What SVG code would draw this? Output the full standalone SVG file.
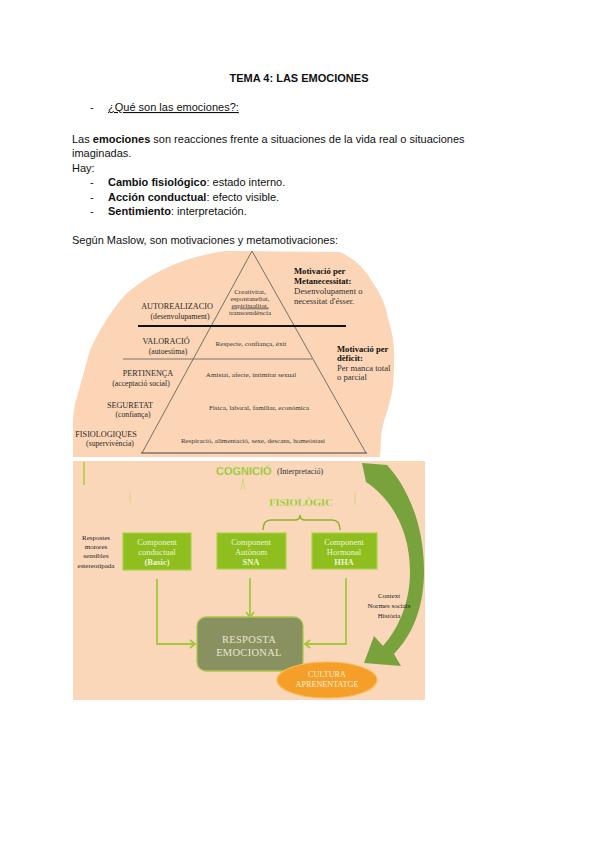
<svg xmlns="http://www.w3.org/2000/svg" width="600" height="848" viewBox="0 0 600 848">
<style>
.body{font-family:"Liberation Sans",Arial,sans-serif;font-size:11px;fill:#111}
.b{font-weight:bold}
.ser{font-family:"Liberation Serif","Times New Roman",serif}
.lab{font-family:"Liberation Serif","Times New Roman",serif;font-size:8.2px;fill:#2a2a2a;text-anchor:middle}
.lab2{font-family:"Liberation Serif","Times New Roman",serif;font-size:7.7px;fill:#2a2a2a;text-anchor:middle}
.in{font-family:"Liberation Serif","Times New Roman",serif;font-size:7.1px;fill:#3a3a3a;text-anchor:middle}
.mot{font-family:"Liberation Serif","Times New Roman",serif;font-size:8.6px;fill:#333}
.pl{stroke:#555;stroke-width:0.8;fill:none}
.box{fill:#8FBF1E;stroke:#ACD24A;stroke-width:1.2}
.bt{font-family:"Liberation Serif","Times New Roman",serif;font-size:8.5px;fill:#EEF3D6;text-anchor:middle}
.con{fill:none;stroke:#A2C83E;stroke-width:1.8}
.tiny{font-family:"Liberation Serif","Times New Roman",serif;font-size:7px;fill:#222;text-anchor:middle}
.faint{stroke:#B9D45A;stroke-width:1;fill:none;opacity:0.6}
</style>
<defs>
<marker id="chev" markerUnits="userSpaceOnUse" markerWidth="10" markerHeight="10" refX="6" refY="5" orient="auto">
<path d="M1,1 L6,5 L1,9" fill="none" stroke="#A2C83E" stroke-width="1.8"/>
</marker>
</defs>
<rect width="600" height="848" fill="#ffffff"/>

<g id="text-section">
<text class="body b" x="299" y="82" text-anchor="middle">TEMA 4: LAS EMOCIONES</text>
<text class="body" x="90" y="111">-</text>
<text class="body" x="108" y="111" text-decoration="underline">¿Qué son las emociones?:</text>
<text class="body" x="72" y="143">Las <tspan class="b">emociones</tspan> son reacciones frente a situaciones de la vida real o situaciones</text>
<text class="body" x="72" y="157">imaginadas.</text>
<text class="body" x="72" y="172">Hay:</text>
<text class="body" x="90" y="186">-</text>
<text class="body" x="108" y="186"><tspan class="b">Cambio fisiológico</tspan>: estado interno.</text>
<text class="body" x="90" y="201">-</text>
<text class="body" x="108" y="201"><tspan class="b">Acción conductual</tspan>: efecto visible.</text>
<text class="body" x="90" y="215">-</text>
<text class="body" x="108" y="215"><tspan class="b">Sentimiento</tspan>: interpretación.</text>
<text class="body" x="72" y="244">Según Maslow, son motivaciones y metamotivaciones:</text>
</g>

<g id="pyramid">
<path d="M225,251 L340,252 Q362,262 373,283 Q385,300 388,318 Q395,340 394,360 Q394,380 392,392 Q388,410 385,418 Q381,430 381,440 L380,457 L73,457 L73,420 Q74,405 77,397 Q84,372 90,350 Q100,328 113,310 Q120,300 127,293 Q145,278 162,270 Q190,256 225,251 Z" fill="#FBD5B5"/>
<path class="pl" d="M252,251 L142,453 M252,251 L366,453"/>
<line x1="141" y1="453" x2="367" y2="453" stroke="#444" stroke-width="1"/>
<line x1="138" y1="326" x2="346" y2="326" stroke="#111" stroke-width="2"/>
<line x1="123" y1="359" x2="312" y2="359" stroke="#777" stroke-width="1"/>

<g id="lvl-autorealitzacio">
<text class="lab" x="177" y="309">AUTOREALIZACIO</text>
<text class="lab2" x="180" y="319">(desenvolupament)</text>
<text class="in" x="250" y="294" font-size="6.6">Creativitat,</text>
<text class="in" x="250" y="301" font-size="6.6">espontaneïtat,</text>
<text class="in" x="250" y="307.5" font-size="6.6" text-decoration="underline">espiritualitat,</text>
<text class="in" x="250" y="314.5" font-size="6.6">transcendència</text>
</g>
<g id="lvl-valoracio">
<text class="lab" x="166" y="344">VALORACIÓ</text>
<text class="lab2" x="168" y="354">(autoestima)</text>
<text class="in" x="251" y="345.5">Respecte, confiança, èxit</text>
</g>
<g id="lvl-pertinenca">
<text class="lab" x="148" y="376">PERTINENÇA</text>
<text class="lab2" x="141" y="386">(acceptació social)</text>
<text class="in" x="251" y="376.5">Amistat, afecte, intimitat sexual</text>
</g>
<g id="lvl-seguretat">
<text class="lab" x="130" y="408">SEGURETAT</text>
<text class="lab2" x="133" y="417">(confiança)</text>
<text class="in" x="259" y="409.5">Física, laboral, familiar, econòmica</text>
</g>
<g id="lvl-fisiologiques">
<text class="lab" x="106" y="437">FISIOLOGIQUES</text>
<text class="lab2" x="110" y="446">(supervivència)</text>
<text class="in" x="253" y="442.5" font-size="7.6">Respiració, alimentació, sexe, descans, homeòstasi</text>
</g>
<g id="meta">
<text class="mot" x="294" y="274"><tspan font-weight="bold" fill="#111">Motivació per</tspan></text>
<text class="mot" x="294" y="284"><tspan font-weight="bold" fill="#111">Metanecessitat:</tspan></text>
<text class="mot" x="294" y="294">Desenvolupament o</text>
<text class="mot" x="294" y="304">necessitat d'ésser.</text>
</g>
<g id="deficit">
<text class="mot" x="337" y="352"><tspan font-weight="bold" fill="#111">Motivació per</tspan></text>
<text class="mot" x="337" y="361"><tspan font-weight="bold" fill="#111">dèficit:</tspan></text>
<text class="mot" x="337" y="371">Per manca total</text>
<text class="mot" x="337" y="380">o parcial</text>
</g>
</g>

<g id="flow-bg">
<rect x="73" y="461" width="352" height="239" fill="#FBD7BA"/>
<line x1="84" y1="462" x2="84" y2="485" stroke="#B2CF3E" stroke-width="1.6"/>
<path class="faint" d="M130,492 V503 M241,490 L243,479 L245,490 M355,492 V505"/>
</g>

<g id="cognicio">
<text x="216" y="475" font-family="Liberation Sans,Arial,sans-serif" font-size="11" font-weight="bold" fill="#97BA2E" stroke="#D3E48F" stroke-width="0.4">COGNICIÓ</text>
<text x="277" y="474" class="ser" font-size="8" fill="#333">(Interpretació)</text>
</g>

<g id="fisiologic">
<text x="301" y="506" class="ser" font-size="10.5" font-weight="bold" fill="#97BA2E" stroke="#D3E48F" stroke-width="0.4" text-anchor="middle">FISIOLÒGIC</text>
<path d="M263,530 Q263,520 271,520 H295 Q300,520 300,515 Q300,520 305,520 H332 Q340,520 340,530" fill="none" stroke="#8DB52C" stroke-width="1.5"/>
</g>

<g id="respostes-label">
<text class="tiny" x="96" y="540">Respostes</text>
<text class="tiny" x="96" y="549">motores</text>
<text class="tiny" x="96" y="558">sensibles</text>
<text class="tiny" x="96" y="568">estereotipada</text>
</g>

<g id="box-conductual">
<rect class="box" x="123" y="533" width="68" height="37"/>
<text class="bt" x="157" y="545">Component</text>
<text class="bt" x="157" y="555">conductual</text>
<text class="bt" x="157" y="565" font-weight="bold">(Basic)</text>
</g>
<g id="box-autonom">
<rect class="box" x="217" y="533" width="69" height="36"/>
<text class="bt" x="251" y="545">Component</text>
<text class="bt" x="251" y="555">Autònom</text>
<text class="bt" x="251" y="565" font-weight="bold">SNA</text>
</g>
<g id="box-hormonal">
<rect class="box" x="312" y="533" width="65" height="36"/>
<text class="bt" x="344" y="545">Component</text>
<text class="bt" x="344" y="555">Hormonal</text>
<text class="bt" x="344" y="565" font-weight="bold">HHA</text>
</g>

<g id="connectors">
<path class="con" d="M157,579 V644 H195" marker-end="url(#chev)"/>
<path class="con" d="M250,578 V617" marker-end="url(#chev)"/>
<path class="con" d="M346,578 V644 H305" marker-end="url(#chev)"/>
<path d="M362,463 L387,465 C410,490 425,530 424,575 C423,610 412,635 394,654 L401,666 L364,663 L374,636 L383,646 C399,628 410,602 410,572 C410,532 393,500 366,482 Z" fill="#78A23C"/>
</g>

<g id="context-label">
<text class="tiny" x="389" y="598">Context</text>
<text class="tiny" x="389" y="608">Normes socials</text>
<text class="tiny" x="389" y="618">Història</text>
</g>

<g id="resposta-emocional">
<rect x="197" y="617" width="106" height="54" rx="9" fill="#8A9160" stroke="#A8C94A" stroke-width="1.3"/>
<text x="249" y="643" class="ser" font-size="10.5" fill="#E8E4D2" text-anchor="middle" letter-spacing="0.3">RESPOSTA</text>
<text x="249" y="656" class="ser" font-size="10.5" fill="#E8E4D2" text-anchor="middle" letter-spacing="0.3">EMOCIONAL</text>
</g>

<g id="cultura">
<ellipse cx="327" cy="680" rx="50" ry="18" fill="#F59E28" stroke="#F7BC5A" stroke-width="1.2"/>
<text x="327" y="677" class="ser" font-size="8.2" fill="#FBEFD8" text-anchor="middle">CULTURA</text>
<text x="327" y="687" class="ser" font-size="8.2" fill="#FBEFD8" text-anchor="middle">APRENENTATGE</text>
</g>
</svg>
